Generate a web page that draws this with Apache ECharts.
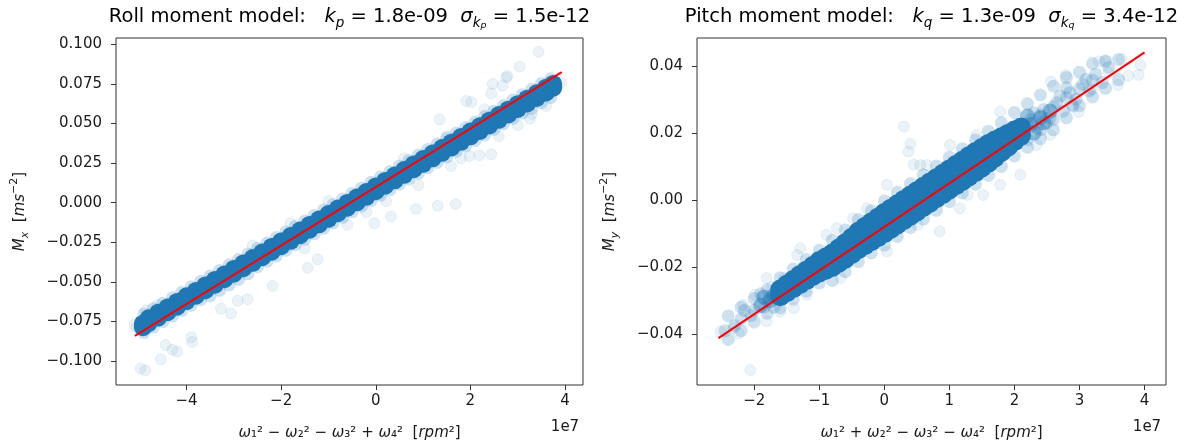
<!DOCTYPE html>
<html>
<head>
<meta charset="utf-8">
<script src="https://cdn.jsdelivr.net/npm/echarts@6/dist/echarts.min.js"></script>
<style>
html,body{margin:0;padding:0;background:#fff;}
#chart{width:1195px;height:445px;}
</style>
</head>
<body>
<div id="chart"></div>
<script>
// ---------- Roll moment (left) : x in units of 1e7 rpm^2, y in ms^-2 ----------
const rollBandX = [-4.92,-4.8,-4.6,-4.4,-4.2,-4.0,-3.8,-3.6,-3.4,-3.2,-3.0,-2.8,-2.6,-2.4,-2.2,-2.0,-1.8,-1.6,-1.4,-1.2,-1.0,-0.8,-0.6,-0.4,-0.2,0.0,0.2,0.4,0.6,0.8,1.0,1.2,1.4,1.6,1.8,2.0,2.2,2.4,2.6,2.8,3.0,3.2,3.4,3.6,3.75];
const rollBandMid = [-0.0775,-0.0746,-0.0711,-0.0677,-0.0642,-0.0607,-0.0573,-0.0538,-0.0503,-0.0469,-0.0434,-0.0399,-0.0365,-0.0330,-0.0295,-0.0260,-0.0226,-0.0191,-0.0156,-0.0122,-0.0087,-0.0052,-0.0017,0.0017,0.0052,0.0087,0.0122,0.0156,0.0191,0.0226,0.0260,0.0295,0.0330,0.0364,0.0399,0.0434,0.0468,0.0503,0.0538,0.0572,0.0607,0.0642,0.0676,0.0711,0.0738];
const rollBandLow = [-0.0787,-0.0761,-0.0726,-0.0692,-0.0657,-0.0622,-0.0588,-0.0553,-0.0518,-0.0484,-0.0449,-0.0414,-0.0380,-0.0345,-0.0310,-0.0275,-0.0241,-0.0206,-0.0171,-0.0137,-0.0102,-0.0067,-0.0032,0.0002,0.0037,0.0072,0.0107,0.0141,0.0176,0.0211,0.0245,0.0280,0.0315,0.0349,0.0384,0.0419,0.0453,0.0488,0.0523,0.0557,0.0592,0.0627,0.0661,0.0696,0.0726];
const rollBandHigh = [-0.0765,-0.0731,-0.0696,-0.0662,-0.0627,-0.0592,-0.0558,-0.0523,-0.0488,-0.0454,-0.0419,-0.0384,-0.0350,-0.0315,-0.0280,-0.0245,-0.0211,-0.0176,-0.0141,-0.0107,-0.0072,-0.0037,-0.0002,0.0032,0.0067,0.0102,0.0137,0.0171,0.0206,0.0241,0.0275,0.0310,0.0345,0.0379,0.0414,0.0449,0.0483,0.0518,0.0553,0.0587,0.0622,0.0657,0.0691,0.0726,0.0750];
const rollHaloX = [-4.9,-4.7,-4.5,-4.3,-4.1,-3.9,-3.7,-3.5,-3.3,-3.1,-2.9,-2.7,-2.5,-2.3,-2.1,-1.9,-1.7,-1.5,-1.3,-1.1,-0.9,-0.7,-0.5,-0.3,-0.1,0.1,0.3,0.5,0.7,0.9,1.1,1.3,1.5,1.7,1.9,2.1,2.3,2.5,2.7,2.9,3.1,3.3,3.5,3.7];
const rollHaloLow = [-0.0821,-0.0786,-0.0752,-0.0717,-0.0682,-0.0648,-0.0613,-0.0589,-0.0554,-0.0519,-0.0485,-0.0450,-0.0405,-0.0371,-0.0336,-0.0301,-0.0266,-0.0232,-0.0197,-0.0162,-0.0128,-0.0093,-0.0058,-0.0023,0.0012,0.0046,0.0081,0.0116,0.0150,0.0185,0.0220,0.0254,0.0289,0.0324,0.0358,0.0393,0.0428,0.0462,0.0497,0.0532,0.0566,0.0596,0.0631,0.0664];
const rollHaloHigh = [-0.0705,-0.0670,-0.0636,-0.0601,-0.0566,-0.0532,-0.0497,-0.0463,-0.0428,-0.0393,-0.0359,-0.0324,-0.0289,-0.0255,-0.0220,-0.0185,-0.0150,-0.0116,-0.0081,-0.0046,-0.0012,0.0023,0.0058,0.0093,0.0128,0.0162,0.0197,0.0232,0.0266,0.0301,0.0336,0.0370,0.0405,0.0440,0.0474,0.0509,0.0544,0.0578,0.0613,0.0648,0.0682,0.0717,0.0752,0.0782];
const rollSparse = [[3.44,0.0953],[3.04,0.0859],[2.78,0.0800],[2.76,0.0790],[2.47,0.0751],[2.68,0.0740],[2.44,0.0690],[1.91,0.0641],[2.02,0.0635],[1.35,0.0526],[3.26,0.0531],[2.87,0.0543],[2.44,0.0305],[2.19,0.0300],[1.98,0.0295],[1.59,0.0231],[1.69,-0.0010],[1.31,-0.0020],[0.85,-0.0040],[0.32,-0.0087],[-0.03,-0.0131],[0.22,0.0009],[-1.23,-0.0358],[-1.44,-0.0411],[-2.18,-0.0526],[-2.71,-0.0610],[-2.92,-0.0620],[-3.06,-0.0700],[-3.27,-0.0670],[-3.90,-0.0850],[-3.88,-0.0880],[-4.20,-0.0940],[-4.44,-0.0900],[-4.30,-0.0930],[-4.54,-0.0990],[-4.97,-0.1047],[-4.87,-0.1060],[-4.86,-0.0680],[-4.61,-0.0646],[-4.15,-0.0614],[3.92,0.0757],[-5.06,-0.0790],[-5.10,-0.0770],[-1.8,-0.0130],[-1.0,0.0010],[0.6,0.0280],[1.5,0.0420],[2.3,0.0590],[-2.6,-0.0270],[-0.2,-0.0060],[0.9,0.0110],[1.8,0.0280],[2.6,0.0420],[3.0,0.0490],[3.3,0.0560],[3.6,0.0610],[-1.5,-0.0290],[-0.6,-0.0140]];
const rollFitX = [-5.09, 3.93];
const rollFitY = [-0.0842, 0.0824];
const rollXTicks = [-4, -2, 0, 2, 4];
const rollYTicks = [-0.1, -0.075, -0.05, -0.025, 0, 0.025, 0.05, 0.075, 0.1];

// ---------- Pitch moment (right) ----------
const pitchCoreX = [-1.6,-1.4,-1.2,-1.0,-0.8,-0.6,-0.4,-0.2,0.0,0.2,0.4,0.6,0.8,1.0,1.2,1.4,1.6,1.8,2.0];
const pitchCoreMid = [-0.0277,-0.0251,-0.0225,-0.0199,-0.0180,-0.0152,-0.0121,-0.0095,-0.0069,-0.0043,-0.0017,0.0009,0.0035,0.0061,0.0087,0.0113,0.0139,0.0165,0.0191];
const pitchCoreLow = [-0.0287,-0.0263,-0.0239,-0.0216,-0.0200,-0.0175,-0.0147,-0.0123,-0.0099,-0.0073,-0.0047,-0.0021,0.0005,0.0031,0.0057,0.0083,0.0111,0.0143,0.0175];
const pitchCoreHigh = [-0.0267,-0.0239,-0.0211,-0.0182,-0.0160,-0.0129,-0.0095,-0.0067,-0.0039,-0.0013,0.0013,0.0039,0.0065,0.0091,0.0117,0.0143,0.0167,0.0187,0.0207];
const pitchInnerX = [-1.5,-1.3,-1.1,-0.9,-0.7,-0.5,-0.3,-0.1,0.1,0.3,0.5,0.7,0.9,1.1,1.3,1.5,1.7,1.9,2.1];
const pitchInnerLow = [-0.0275,-0.0251,-0.0227,-0.0208,-0.0187,-0.0161,-0.0135,-0.0111,-0.0086,-0.0060,-0.0034,-0.0008,0.0018,0.0044,0.0070,0.0097,0.0127,0.0159,0.0192];
const pitchInnerHigh = [-0.0253,-0.0225,-0.0197,-0.0172,-0.0145,-0.0113,-0.0081,-0.0053,-0.0026,0.0000,0.0026,0.0052,0.0078,0.0104,0.0130,0.0155,0.0177,0.0197,0.0216];
const pitchFade = [[2.25,0.0225],[2.4,0.0245],[2.55,0.0265],[2.3,0.0200],[2.45,0.0230],[2.2,0.0250],[-1.75,-0.0300],[-1.9,-0.0315],[-1.7,-0.0285],[-1.85,-0.0290]];
const pitchHaloX = [-2.4,-2.2,-2.0,-1.8,-1.6,-1.4,-1.2,-1.0,-0.8,-0.6,-0.4,-0.2,0.0,0.2,0.4,0.6,0.8,1.0,1.2,1.4,1.6,1.8,2.0,2.2,2.4,2.6,2.8,3.0,3.2,3.4,3.6];
const pitchHaloLow = [-0.0416,-0.0390,-0.0364,-0.0338,-0.0322,-0.0296,-0.0272,-0.0248,-0.0240,-0.0214,-0.0184,-0.0158,-0.0135,-0.0109,-0.0083,-0.0057,-0.0031,-0.0005,0.0021,0.0047,0.0073,0.0100,0.0131,0.0157,0.0183,0.0209,0.0245,0.0281,0.0307,0.0333,0.0359];
const pitchHaloHigh = [-0.0346,-0.0320,-0.0294,-0.0268,-0.0232,-0.0206,-0.0178,-0.0150,-0.0120,-0.0090,-0.0058,-0.0032,-0.0003,0.0023,0.0049,0.0075,0.0101,0.0127,0.0153,0.0179,0.0205,0.0230,0.0261,0.0287,0.0313,0.0339,0.0365,0.0381,0.0407,0.0413,0.0419];
const pitchMedium = [[2.2,0.0227],[2.4,0.0253],[2.6,0.0279],[2.8,0.0305],[3.0,0.0331],[3.2,0.0357],[2.3,0.0260],[2.5,0.0230],[2.7,0.0310],[2.9,0.0280],[3.1,0.0360],[2.15,0.0200],[2.25,0.0240],[2.35,0.0215],[2.45,0.0270],[2.55,0.0245],[2.65,0.0290],[2.75,0.0265],[2.85,0.0320],[2.95,0.0300],[3.05,0.0345],[3.15,0.0325],[3.25,0.0375],[3.35,0.0350],[3.45,0.0395],[2.2,0.0180],[2.4,0.0210],[2.6,0.0240],[2.8,0.0335],[-2.0,-0.0329],[-1.8,-0.0303],[-2.2,-0.0355],[-1.9,-0.0280],[-1.7,-0.0320],[-1.75,-0.0290],[-1.85,-0.0320],[-2.05,-0.0345],[-2.15,-0.0330],[-2.3,-0.0375],[-2.45,-0.0390]];
const pitchSparse = [[-2.52,-0.0393],[-2.32,-0.0383],[-2.24,-0.0398],[-2.17,-0.0313],[-1.99,-0.0283],[-1.81,-0.0362],[-1.73,-0.0259],[-1.55,-0.0234],[-1.34,-0.0164],[-1.60,-0.0333],[-1.39,-0.0323],[-2.06,-0.0507],[0.30,0.0219],[0.37,0.0144],[0.40,0.0168],[0.45,0.0106],[0.55,0.0104],[3.40,0.0417],[3.30,0.0413],[2.79,0.0373],[2.56,0.0353],[3.94,0.0402],[3.91,0.0373],[3.59,0.0343],[2.99,0.0263],[2.89,0.0283],[2.55,0.0194],[2.34,0.0164],[2.09,0.0075],[1.78,0.0045],[1.52,0.0015],[1.16,-0.0025],[0.85,-0.0094],[1.78,0.0263],[1.42,0.0194],[1.01,0.0164],[0.65,0.0104],[0.04,0.0045],[-0.48,-0.0055],[-0.89,-0.0104],[-1.29,-0.0144],[-1.81,-0.0233],[-1.19,-0.0283],[-0.67,-0.0233],[0.04,-0.0154],[0.51,-0.0074],[1.28,0.0015],[-0.73,-0.0084],[-0.27,-0.0025],[3.65,0.0420],[3.45,0.0380],[3.20,0.0330],[3.75,0.0370]];
const pitchFitX = [-2.55, 4.0];
const pitchFitY = [-0.0412, 0.0440];
const pitchXTicks = [-2, -1, 0, 1, 2, 3, 4];
const pitchYTicks = [-0.04, -0.02, 0, 0.02, 0.04];

// ---------- helpers ----------
const BLUE = '#1f77b4';
const FONT = 'DejaVu Sans';
const TXT = '#1a1a1a';
function pts(xs, ys) { return xs.map((x, i) => [x, ys[i]]); }
function minus(s) { return String(s).replace('-', '\u2212'); }

const titleRich = {
  n: {fontFamily: FONT, fontSize: 19.5, color: TXT, lineHeight: 27},
  i: {fontFamily: FONT, fontSize: 19.5, fontStyle: 'italic', color: TXT, lineHeight: 27},
  s: {fontFamily: FONT, fontSize: 13.5, fontStyle: 'italic', color: TXT, lineHeight: 13, verticalAlign: 'bottom'},
  ss: {fontFamily: FONT, fontSize: 9.5, fontStyle: 'italic', color: TXT, lineHeight: 6, verticalAlign: 'bottom'}
};
const labRich = {
  n: {fontFamily: FONT, fontSize: 15, color: TXT, lineHeight: 22},
  i: {fontFamily: FONT, fontSize: 15, fontStyle: 'italic', color: TXT, lineHeight: 22},
  s: {fontFamily: FONT, fontSize: 11, fontStyle: 'italic', color: TXT, lineHeight: 11, verticalAlign: 'bottom'},
  p: {fontFamily: FONT, fontSize: 11, color: TXT, lineHeight: 11, verticalAlign: 'top'}
};

function xAxisCfg(grid, min, max, ticks, name) {
  return {
    gridIndex: grid, type: 'value', min: min, max: max, position: 'bottom',
    axisLine: {show: false, onZero: false}, splitLine: {show: false},
    axisTick: {show: true, length: 5, lineStyle: {color: '#333', width: 1}, customValues: ticks},
    axisLabel: {customValues: ticks, margin: 9, fontFamily: FONT, fontSize: 15, color: TXT,
      formatter: v => minus(v)},
    name: name, nameLocation: 'middle', nameGap: 37,
    nameTextStyle: {rich: labRich}
  };
}
function yAxisCfg(grid, min, max, ticks, dec, name, gap) {
  return {
    gridIndex: grid, type: 'value', min: min, max: max, position: 'left',
    axisLine: {show: false, onZero: false}, splitLine: {show: false},
    axisTick: {show: true, length: 5, lineStyle: {color: '#333', width: 1}, customValues: ticks},
    axisLabel: {customValues: ticks, margin: 14, fontFamily: FONT, fontSize: 15, color: TXT,
      formatter: v => minus(Number(v).toFixed(dec))},
    name: name, nameLocation: 'middle', nameGap: gap, nameRotate: 90,
    nameTextStyle: {rich: labRich}
  };
}
function scatter(ax, data, op, z, size, border) {
  return {
    type: 'scatter', xAxisIndex: ax, yAxisIndex: ax, data: data, symbolSize: size, z: z,
    itemStyle: {color: BLUE, opacity: op, borderColor: BLUE, borderWidth: border ? 1 : 0},
    emphasis: {disabled: true}, silent: true
  };
}
function fit(ax, xs, ys) {
  return {
    type: 'line', xAxisIndex: ax, yAxisIndex: ax, data: pts(xs, ys), symbol: 'none', z: 10,
    lineStyle: {color: '#ff0000', width: 2}, silent: true
  };
}

const rollCore = [].concat(pts(rollBandX, rollBandLow), pts(rollBandX, rollBandMid), pts(rollBandX, rollBandHigh));
const rollHalo = [].concat(pts(rollHaloX, rollHaloLow), pts(rollHaloX, rollHaloHigh));
const pitchCore = [].concat(pts(pitchCoreX, pitchCoreLow), pts(pitchCoreX, pitchCoreMid), pts(pitchCoreX, pitchCoreHigh),
  pts(pitchInnerX, pitchInnerLow), pts(pitchInnerX, pitchInnerHigh));
const pitchHalo = [].concat(pts(pitchHaloX, pitchHaloLow), pts(pitchHaloX, pitchHaloHigh));

const chart = echarts.init(document.getElementById('chart'), null, {renderer: 'canvas'});
chart.setOption({
  animation: false,
  backgroundColor: '#ffffff',
  grid: [
    {left: 116, top: 38, width: 467, height: 347, show: true, borderColor: '#333', borderWidth: 1, backgroundColor: 'transparent', containLabel: false, outerBoundsMode: 'none'},
    {left: 697, top: 38, width: 469, height: 347, show: true, borderColor: '#333', borderWidth: 1, backgroundColor: 'transparent', containLabel: false, outerBoundsMode: 'none'}
  ],
  xAxis: [
    xAxisCfg(0, -5.49, 4.38, rollXTicks, '{i|ω}{n|₁² − }{i|ω}{n|₂² − }{i|ω}{n|₃² + }{i|ω}{n|₄²  [}{i|rpm}{n|²]}'),
    xAxisCfg(1, -2.88, 4.33, pitchXTicks, '{i|ω}{n|₁² + }{i|ω}{n|₂² − }{i|ω}{n|₃² − }{i|ω}{n|₄²  [}{i|rpm}{n|²]}')
  ],
  yAxis: [
    yAxisCfg(0, -0.1152, 0.104, rollYTicks, 3, '{i|M}{s|x}{n|  [}{i|ms}{p|−2}{n|]}', 85),
    yAxisCfg(1, -0.0552, 0.0483, pitchYTicks, 2, '{i|M}{s|y}{n|  [}{i|ms}{p|−2}{n|]}', 76)
  ],
  graphic: [
    {type: 'text', x: 349.5, y: 17, silent: true, style: {
      text: '{n|Roll moment model:   }{i|k}{s|p}{n| = 1.8e-09  }{i|σ}{s|k}{ss|p}{n| = 1.5e-12}',
      rich: titleRich, align: 'center', verticalAlign: 'middle'}},
    {type: 'text', x: 931.5, y: 17, silent: true, style: {
      text: '{n|Pitch moment model:   }{i|k}{s|q}{n| = 1.3e-09  }{i|σ}{s|k}{ss|q}{n| = 3.4e-12}',
      rich: titleRich, align: 'center', verticalAlign: 'middle'}},
    {type: 'text', x: 565, y: 427, silent: true, style: {text: '1e7', fontFamily: FONT, fontSize: 15, fill: TXT, align: 'center', verticalAlign: 'middle'}},
    {type: 'text', x: 1147, y: 427, silent: true, style: {text: '1e7', fontFamily: FONT, fontSize: 15, fill: TXT, align: 'center', verticalAlign: 'middle'}}
  ],
  series: [
    scatter(0, rollSparse, 0.09, 1, 11, true),
    scatter(0, rollHalo, 0.22, 2, 13, false),
    scatter(0, rollCore, 1, 3, 18, false),
    fit(0, rollFitX, rollFitY),
    scatter(1, pitchSparse, 0.09, 1, 11, true),
    scatter(1, pitchMedium, 0.22, 2, 13, false),
    scatter(1, pitchHalo, 0.22, 2, 13, false),
    scatter(1, pitchFade, 0.45, 2, 15, false),
    scatter(1, pitchCore, 1, 3, 20, false),
    fit(1, pitchFitX, pitchFitY)
  ]
});
</script>
</body>
</html>
